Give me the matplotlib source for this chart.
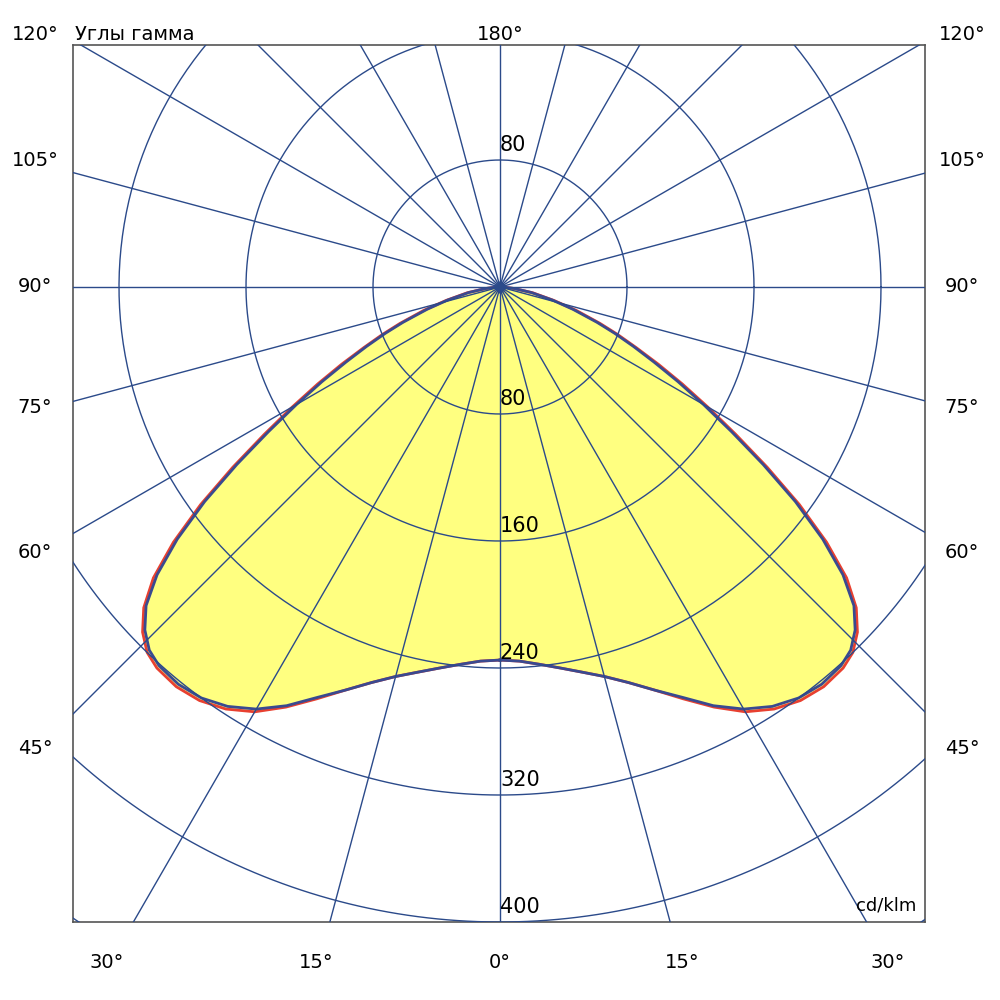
import numpy as np
import matplotlib.pyplot as plt

# gamma angle (deg) and intensity (cd/klm)
gamma = [0, 3, 6, 9, 12, 15, 18, 21, 24, 27, 30, 33, 36, 39, 42, 44, 46, 48, 50, 52,
         54, 56, 58, 60, 62, 64, 66, 68, 70, 73, 76, 80, 84, 87, 90]
blue_i = [235, 236, 239, 243, 248, 254, 262, 272, 283, 296, 307, 315, 320, 322, 321, 318,
          311, 300, 282, 258, 230, 200, 172, 148, 127, 108, 92, 78, 65, 48, 34, 20, 9, 3, 0]
red_i = [235, 236, 239, 243, 248, 254, 262, 272, 284, 297, 309, 317, 322, 324, 323, 320,
         313, 302, 285, 261, 233, 203, 175, 151, 130, 111, 94, 80, 67, 50, 35, 21, 9, 3, 0]

ring_values = [80, 160, 240, 320, 400, 480, 560]
ring_labels = ["80", "160", "240", "320", "400"]

side_labels = [("120°", 35), ("105°", 160), ("90°", 287), ("75°", 408), ("60°", 553), ("45°", 748)]
bottom_labels = [("30°", 107), ("15°", 316), ("0°", 500), ("15°", 682), ("30°", 888)]

grid_c = "#2b4a8a"
S = 127 / 80  # px per cd/klm

fig = plt.figure(figsize=(10, 10), dpi=100)
ax = fig.add_axes([0.073, 0.078, 0.852, 0.877])
ax.set_xlim((73 - 500) / S, (925 - 500) / S)
ax.set_ylim(-(922 - 287) / S, (287 - 45) / S)
ax.set_xticks([])
ax.set_yticks([])
for sp in ax.spines.values():
    sp.set_color("#555555")
    sp.set_linewidth(1.2)

t = np.linspace(0, 2 * np.pi, 400)


def curve(vals):
    g = np.radians(np.array(gamma))
    v = np.array(vals)
    x = np.concatenate([v * np.sin(g), (-v * np.sin(g))[::-1]])
    y = np.concatenate([-v * np.cos(g), (-v * np.cos(g))[::-1]])
    return x, y


rx, ry = curve(red_i)
bx, by = curve(blue_i)
ax.fill(rx, ry, color="#ffff80", zorder=2)
ax.plot(rx, ry, color="#e84030", lw=2, zorder=3)
ax.plot(bx, by, color="#3a4a90", lw=2, zorder=4)
for r in ring_values:
    ax.plot(r * np.cos(t), r * np.sin(t), color=grid_c, lw=1, zorder=5)
for a in range(0, 360, 15):
    ar = np.radians(a)
    ax.plot([0, 800 * np.sin(ar)], [0, -800 * np.cos(ar)], color=grid_c, lw=1, zorder=5)
ax.plot([0], [0], marker="D", color=grid_c, ms=6, zorder=6)

for v, lab in zip(ring_values, ring_labels):
    ax.text(0, -v + 3, lab, ha="left", va="bottom", fontsize=15, zorder=7)
ax.text(0, 80 + 3, "80", ha="left", va="bottom", fontsize=15, zorder=7)
ax.text(262, -395, "cd/klm", ha="right", va="bottom", fontsize=13, zorder=7)

for lab, y in side_labels:
    fig.text(0.035, 1 - y / 1000, lab, ha="center", va="center", fontsize=14)
    fig.text(0.962, 1 - y / 1000, lab, ha="center", va="center", fontsize=14)
for lab, x in bottom_labels:
    fig.text(x / 1000, 1 - 962 / 1000, lab, ha="center", va="center", fontsize=14)
fig.text(0.5, 1 - 35 / 1000, "180°", ha="center", va="center", fontsize=14)
fig.text(0.075, 1 - 35 / 1000, "Углы гамма", ha="left", va="center", fontsize=14)

fig.savefig("out.png", dpi=100, facecolor="white")
